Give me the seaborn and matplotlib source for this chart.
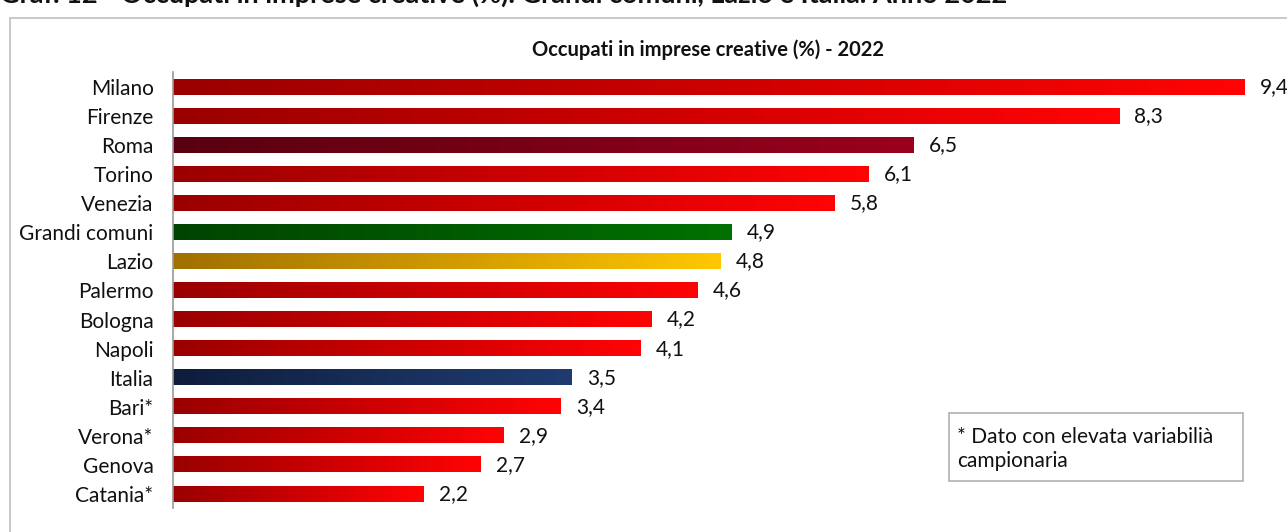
import numpy as np
import pandas as pd
import matplotlib
matplotlib.use('Agg')
import matplotlib.pyplot as plt
import seaborn as sns
from matplotlib.colors import LinearSegmentedColormap
from matplotlib.patches import Rectangle

# -------------------------------------------------------------
# DATI
# -------------------------------------------------------------
citta = ['Milano', 'Firenze', 'Roma', 'Torino', 'Venezia', 'Grandi comuni',
         'Lazio', 'Palermo', 'Bologna', 'Napoli', 'Italia', 'Bari*',
         'Verona*', 'Genova', 'Catania*']
valori = [9.4, 8.3, 6.5, 6.1, 5.8, 4.9, 4.8, 4.6, 4.2, 4.1, 3.5, 3.4, 2.9, 2.7, 2.2]
gruppo = ['citta', 'citta', 'roma', 'citta', 'citta', 'grandi', 'lazio',
          'citta', 'citta', 'citta', 'italia', 'citta', 'citta', 'citta', 'citta']

# sfumature (sinistra -> destra)
sfumature = {
    'citta':  ['#9a0000', '#cc0000', '#ff0404'],
    'roma':   ['#580010', '#7a0016', '#9a001e'],
    'grandi': ['#004400', '#005a00', '#007200'],
    'lazio':  ['#a07000', '#d09a00', '#ffc800'],
    'italia': ['#0e1c3c', '#172e58', '#1f3b70'],
}

df = pd.DataFrame({'citta': citta, 'valore': valori, 'gruppo': gruppo})

# -------------------------------------------------------------
# CONFIGURAZIONE
# -------------------------------------------------------------
sns.set_theme(style='white')
plt.rcParams['font.family'] = ['Lato', 'DejaVu Sans']

W, H = 1287, 532
fig = plt.figure(figsize=(W / 100, H / 100), dpi=100)
ax = fig.add_axes([173 / W, 1 - 508.5 / H, (W - 173) / W, 436 / H])

sns.barplot(data=df, x='valore', y='citta', orient='h', ax=ax,
            color='white', width=0.52, saturation=1)

# sfumatura su ogni barra
gradiente = np.linspace(0, 1, 256).reshape(1, -1)
for patch, g in zip(ax.patches, df['gruppo']):
    cmap = LinearSegmentedColormap.from_list(g, sfumature[g])
    x, y = patch.get_x(), patch.get_y()
    w, h = patch.get_width(), patch.get_height()
    ax.imshow(gradiente, cmap=cmap, aspect='auto', interpolation='bicubic',
              extent=(x, x + w, y + h, y), zorder=2)
    patch.set_facecolor('none')
    patch.set_edgecolor('none')

ax.bar_label(ax.containers[0], labels=[f'{v:.1f}'.replace('.', ',') for v in valori],
             padding=11, fontsize=15, color='#111111', clip_on=False)

ax.set_xlim(0, (W - 173) / 114)
ax.set_ylim(14.5, -0.5)
ax.set_xlabel('')
ax.set_ylabel('')
ax.set_xticks([])
ax.tick_params(axis='y', length=0, pad=14, labelsize=15, labelcolor='#111111')
for lato in ['top', 'right', 'bottom']:
    ax.spines[lato].set_visible(False)
ax.spines['left'].set_color('#9a9a9a')
ax.spines['left'].set_linewidth(1.2)

# cornice esterna
fig.patches.append(Rectangle((10 / W, -0.1), 1.2, 1 - 18 / H + 0.1,
                             transform=fig.transFigure, fill=False,
                             edgecolor='#c0c0c0', linewidth=1.2))

# titoli
fig.text(0.0, 1 - 3 / H, 'Graf. 12 - Occupati in imprese creative (%). Grandi comuni, Lazio e Italia. Anno 2022',
         fontsize=19.5, fontweight='bold', va='baseline', ha='left', color='#111111')
fig.text(708 / W, 1 - 50 / H, 'Occupati in imprese creative (%) - 2022',
         fontsize=14.5, fontweight='bold', ha='center', va='center', color='#111111')

# nota
fig.patches.append(Rectangle((949 / W, 1 - 481 / H), 294 / W, 68 / H,
                             transform=fig.transFigure, fill=False,
                             edgecolor='#b0b0b0', linewidth=1.2))
fig.text(957 / W, 1 - 449 / H, '* Dato con elevata variabilià\ncampionaria',
         fontsize=15, ha='left', va='center', linespacing=1.25, color='#111111')

plt.savefig('out.png', dpi=100)
